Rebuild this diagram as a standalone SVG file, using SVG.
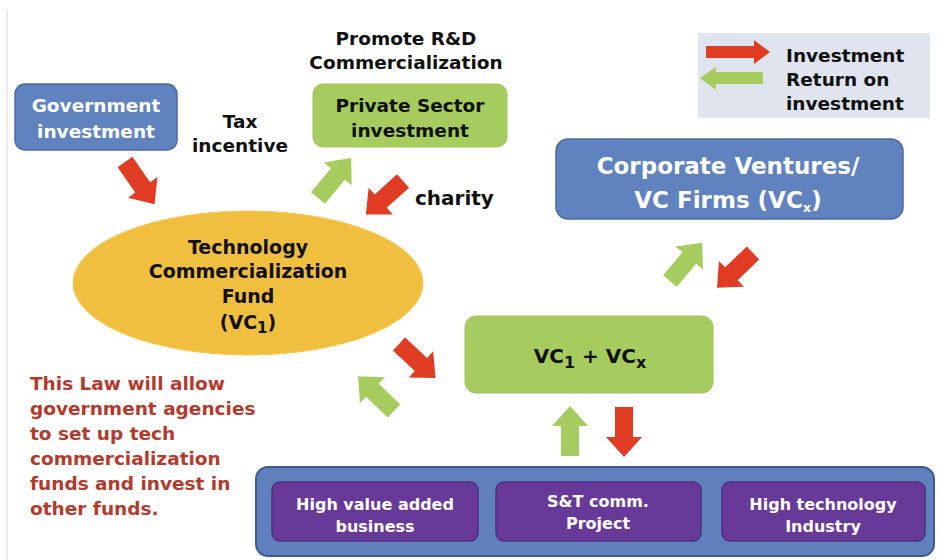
<svg xmlns="http://www.w3.org/2000/svg" xmlns:xlink="http://www.w3.org/1999/xlink" width="938" height="560" viewBox="0 0 938 560">
<style>
text{font-family:"DejaVu Sans","Liberation Sans",sans-serif;font-weight:bold;text-anchor:middle}
.blue{fill:#6083c0;stroke:#4a69a3;stroke-width:1.5}
.green{fill:#a6cb5f;stroke:#a0c55a;stroke-width:1}
.purple{fill:#673a9a;stroke:#52307e;stroke-width:1.5}
.w{fill:#ffffff}
.k{fill:#111111}
.r{fill:#b33a2c;text-anchor:start}
.ar{fill:#e03c24}
.ag{fill:#a6cb5f}
</style>
<defs>
<path id="arrow" d="M0,-9 L30,-9 L30,-18 L50,0 L30,18 L30,9 L0,9 Z"/>
</defs>
<rect width="938" height="560" fill="#ffffff"/>
<line x1="7" y1="10" x2="7" y2="560" stroke="#e4e4e4" stroke-width="1.5"/>

<g id="legend">
<rect x="698" y="33" width="232" height="85" fill="#dfe4ee"/>
<path class="ar" d="M706,46 L754,46 L754,40 L770,52 L754,64 L754,58 L706,58 Z"/>
<path class="ag" d="M763,72 L716,72 L716,67 L700,78 L716,90 L716,84 L763,84 Z"/>
<text class="k" x="786" y="62" font-size="18.5" style="text-anchor:start">Investment</text>
<text class="k" x="786" y="86" font-size="18.5" style="text-anchor:start">Return on</text>
<text class="k" x="786" y="110" font-size="18.5" style="text-anchor:start">investment</text>
</g>

<g id="gov">
<rect class="blue" x="15" y="84" width="162" height="66" rx="10"/>
<text class="w" x="96" y="112" font-size="18.5">Government</text>
<text class="w" x="96" y="138" font-size="18.5">investment</text>
</g>

<g id="tax">
<text class="k" x="240" y="128" font-size="18.5">Tax</text>
<text class="k" x="240" y="152" font-size="18.5">incentive</text>
</g>

<g id="promote">
<text class="k" x="406" y="45" font-size="18.5">Promote R&amp;D</text>
<text class="k" x="406" y="69" font-size="18.5">Commercialization</text>
</g>

<g id="private">
<rect class="green" x="313" y="84" width="194" height="63" rx="10"/>
<text class="k" x="410" y="112" font-size="18.5">Private Sector</text>
<text class="k" x="410" y="137" font-size="18.5">investment</text>
</g>

<g id="charity">
<text class="k" x="415" y="205" font-size="20" style="text-anchor:start">charity</text>
</g>

<g id="corporate">
<rect class="blue" x="556" y="139" width="347" height="80" rx="12"/>
<text class="w" x="728" y="174" font-size="23">Corporate Ventures/</text>
<text class="w" x="728" y="208" font-size="23">VC Firms (VC<tspan font-size="13" dy="4">x</tspan><tspan dy="-4">)</tspan></text>
</g>

<g id="fund">
<ellipse cx="248" cy="283" rx="175" ry="72" fill="#f0bf40" stroke="#f3c950" stroke-width="1"/>
<text class="k" x="248" y="254" font-size="19">Technology</text>
<text class="k" x="248" y="278" font-size="19">Commercialization</text>
<text class="k" x="248" y="303" font-size="19">Fund</text>
<text class="k" x="248" y="329" font-size="19">(VC<tspan font-size="15" dy="4">1</tspan><tspan dy="-4">)</tspan></text>
</g>

<g id="vc">
<rect class="green" x="465" y="316" width="248" height="77" rx="11"/>
<text class="k" x="590" y="363" font-size="20">VC<tspan font-size="16" dy="5">1</tspan><tspan dy="-5"> + VC</tspan><tspan font-size="16" dy="5">x</tspan></text>
</g>

<g id="law">
<text class="r" x="30" y="390" font-size="18.5">This Law will allow</text>
<text class="r" x="30" y="415" font-size="18.5">government agencies</text>
<text class="r" x="30" y="440" font-size="18.5">to set up tech</text>
<text class="r" x="30" y="465" font-size="18.5">commercialization</text>
<text class="r" x="30" y="490" font-size="18.5">funds and invest in</text>
<text class="r" x="30" y="515" font-size="18.5">other funds.</text>
</g>

<g id="sectors">
<rect class="blue" x="256" y="467" width="678" height="89" rx="12" style="fill:#5f80bd;stroke:#3f5a8c;stroke-width:2"/>
<g id="highvalue">
<rect class="purple" x="272" y="482" width="206" height="59" rx="8"/>
<text class="w" x="375" y="510" font-size="16">High value added</text>
<text class="w" x="375" y="532" font-size="16">business</text>
</g>
<g id="stcomm">
<rect class="purple" x="496" y="482" width="205" height="59" rx="8"/>
<text class="w" x="598" y="507" font-size="16">S&amp;T comm.</text>
<text class="w" x="598" y="529" font-size="16">Project</text>
</g>
<g id="hightech">
<rect class="purple" x="722" y="482" width="203" height="59" rx="8"/>
<text class="w" x="823" y="510" font-size="16">High technology</text>
<text class="w" x="823" y="532" font-size="16">Industry</text>
</g>
</g>

<g id="connectors">
<use xlink:href="#arrow" href="#arrow" class="ar" transform="translate(125,162) rotate(55) scale(1.03,1)"/>
<use xlink:href="#arrow" href="#arrow" class="ag" transform="translate(318,198) rotate(-50.5) scale(1.04,1)"/>
<use xlink:href="#arrow" href="#arrow" class="ar" transform="translate(403,181) rotate(138)"/>
<use xlink:href="#arrow" href="#arrow" class="ar" transform="translate(399,344) rotate(43)"/>
<use xlink:href="#arrow" href="#arrow" class="ag" transform="translate(394,411) rotate(-136)"/>
<use xlink:href="#arrow" href="#arrow" class="ag" transform="translate(670,281) rotate(-50)"/>
<use xlink:href="#arrow" href="#arrow" class="ar" transform="translate(753,253) rotate(136)"/>
<use xlink:href="#arrow" href="#arrow" class="ag" transform="translate(570,456) rotate(-90)"/>
<use xlink:href="#arrow" href="#arrow" class="ar" transform="translate(624,407) rotate(90)"/>
</g>
</svg>
